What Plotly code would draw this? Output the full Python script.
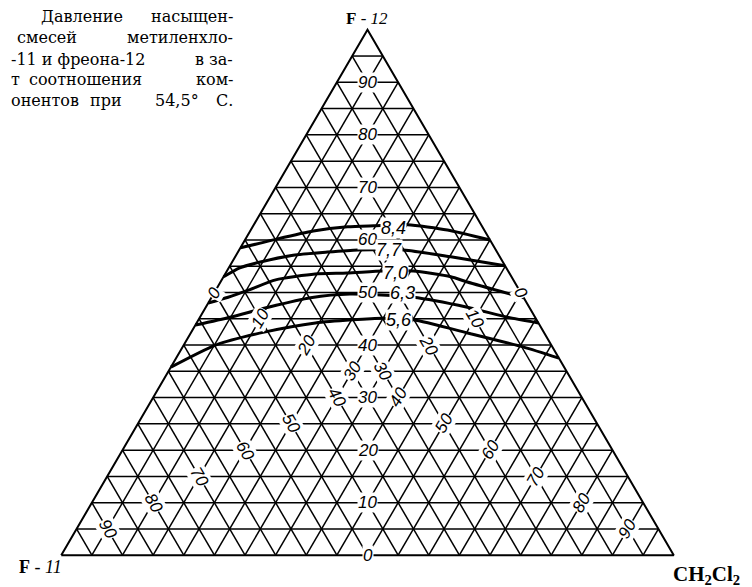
import plotly.graph_objects as go

# isobars (saturation pressure):
# % F-12 and % CH2Cl2 along each curve, from the F-11/F-12 side to the CH2Cl2/F-12 side
p84_f12 = [58.5, 59.4, 60.2, 61.7, 62.5, 62.7, 62.9, 61.9, 60.0]
p84_ch2 = [0, 2.8, 5.2, 10.3, 15.5, 19.7, 25.1, 32.1, 40.0]
p77_f12 = [53.0, 54.7, 55.8, 57.1, 57.7, 58.1, 58.1, 56.8, 55.1]
p77_ch2 = [0, 1.8, 4.6, 9.3, 14.6, 19.4, 26.8, 35.2, 44.9]
p70_f12 = [48.0, 49.1, 50.5, 52.4, 53.5, 53.7, 54.1, 54.1, 53.0, 52.0, 49.0]
p70_ch2 = [0, 2.7, 5.4, 8.8, 14.7, 19.8, 25.5, 30.4, 37.1, 40.3, 51.0]
p63_f12 = [43.8, 45.3, 47.2, 49.0, 49.7, 49.1, 47.2, 45.3, 44.2]
p63_ch2 = [0, 4.9, 10.2, 16.2, 22.3, 32.9, 42.7, 50.2, 55.8]
p56_f12 = [35.8, 40.0, 42.5, 44.2, 44.8, 45.1, 44.8, 42.3, 39.6, 37.5]
p56_ch2 = [0, 5.2, 12.1, 19.4, 25.1, 29.9, 35.1, 45.2, 55.7, 62.5]

pressures = ["8,4", "7,7", "7,0", "6,3", "5,6"]
# where each pressure label sits (% F-12, % CH2Cl2)
press_lbl_f12 = [62.3, 58.1, 53.7, 49.9, 44.8]
press_lbl_ch2 = [23.1, 24.4, 27.7, 30.7, 32.7]

f12_ticks = [0, 10, 20, 30, 40, 50, 60, 70, 80, 90]
left_ch2_ticks = [0, 10, 20, 30]
left_f11_ticks = [40, 50, 60, 70, 80, 90]
right_f11_ticks = [0, 10, 20, 30]
right_ch2_ticks = [40, 50, 60, 70, 80, 90]

# caption, cut off at the left edge in the scan: (words, screen x, anchor) per line
caption = [
    [("Давление", 39, "left"), ("насыщен-", 235, "right")],
    [("смесей", 15, "left"), ("метиленхло-", 235, "right")],
    [("-11 и фреона-12", 9, "left"), ("в за-", 235, "right")],
    [("т", 9, "left"), ("соотношения", 27, "left"), ("ком-", 235, "right")],
    [("онентов", 9, "left"), ("при", 88, "left"), ("54,5°", 201, "right"),
     ("С.", 235, "right")],
]
caption_y = [17, 38, 60, 80, 101]


def xy(f12, ch2):
    # ternary -> plane: x runs F-11 corner -> CH2Cl2 corner, y to the F-12 apex
    return ch2 / 100 + f12 / 200, f12 / 100


def paper(x, y):
    # screen pixel -> paper coords (plot area 637x557 starting at 49,14 on screen)
    return (x - 49) / 637, 1 - (y - 14) / 557


fig = go.Figure()

# 5 % grid
gx, gy = [], []
for v in range(5, 100, 5):
    for (a1, c1), (a2, c2) in [((v, 0), (v, 100 - v)),
                               ((0, v), (100 - v, v)),
                               ((0, 100 - v), (100 - v, 0))]:
        x1, y1 = xy(a1, c1)
        x2, y2 = xy(a2, c2)
        gx += [x1, x2, None]
        gy += [y1, y2, None]
fig.add_trace(go.Scatter(x=gx, y=gy, mode="lines",
                         line=dict(color="black", width=1.5), hoverinfo="skip"))

ex, ey = zip(*[xy(a, c) for a, c in [(0, 0), (0, 100), (100, 0), (0, 0)]])
fig.add_trace(go.Scatter(x=ex, y=ey, mode="lines",
                         line=dict(color="black", width=2), hoverinfo="skip"))

curves = [(p84_f12, p84_ch2), (p77_f12, p77_ch2), (p70_f12, p70_ch2),
          (p63_f12, p63_ch2), (p56_f12, p56_ch2)]
for name, (f, c) in zip(pressures, curves):
    cx, cy = zip(*[xy(a, b) for a, b in zip(f, c)])
    fig.add_trace(go.Scatter(x=cx, y=cy, mode="lines", name=name,
                             line=dict(color="black", width=3, shape="spline", smoothing=0.6)))

num_font = dict(family="Liberation Sans", size=17, color="black")


def label(text, f12, ch2, angle=0, size=17):
    x, y = xy(f12, ch2)
    fig.add_annotation(x=x, y=y, text="<i>%s</i>" % text, showarrow=False,
                       textangle=angle, bgcolor="white", borderpad=0,
                       xanchor="center", yanchor="middle",
                       font=dict(num_font, size=size))


for v in f12_ticks:
    label(v, v, (100 - v) / 2)
for v in left_ch2_ticks:
    label(v, (100 - v) / 2, v, -60)
for v in left_f11_ticks:
    label(v, (100 - v) / 2, (100 - v) / 2, 60)
for v in right_f11_ticks:
    label(v, (100 - v) / 2, (100 - v) / 2, 60)
for v in right_ch2_ticks:
    label(v, (100 - v) / 2, v, -60)
for t, f, c in zip(pressures, press_lbl_f12, press_lbl_ch2):
    label(t, f, c, size=18)

# corner names
corner_font = dict(family="Liberation Serif", color="black")
for text, (cx, cy), size in [("<b>F</b> - <i>12</i>", (367, 18), 17),
                             ("<b>F</b> - <i>11</i>", (40, 567), 18),
                             ("<b>CH<sub>2</sub>Cl<sub>2</sub></b>", (706, 575), 21)]:
    x, y = paper(cx, cy)
    fig.add_annotation(x=x, y=y, xref="paper", yref="paper", text=text,
                       showarrow=False, xanchor="center", yanchor="middle",
                       font=dict(corner_font, size=size))

cap_font = dict(family="DejaVu Serif", size=16, color="black")
for words, ly in zip(caption, caption_y):
    for word, wx, anchor in words:
        x, y = paper(wx, ly)
        fig.add_annotation(x=x, y=y, xref="paper", yref="paper", text=word,
                           showarrow=False, xanchor=anchor, yanchor="middle",
                           font=cap_font)

fig.update_xaxes(range=[-0.02, 1.02], visible=False)
fig.update_yaxes(range=[-0.03, 1.03], visible=False)
fig.update_layout(width=752, height=587, showlegend=False,
                  margin=dict(l=41, r=74, t=6, b=24),
                  plot_bgcolor="white", paper_bgcolor="white")

fig.write_html("out.html")
